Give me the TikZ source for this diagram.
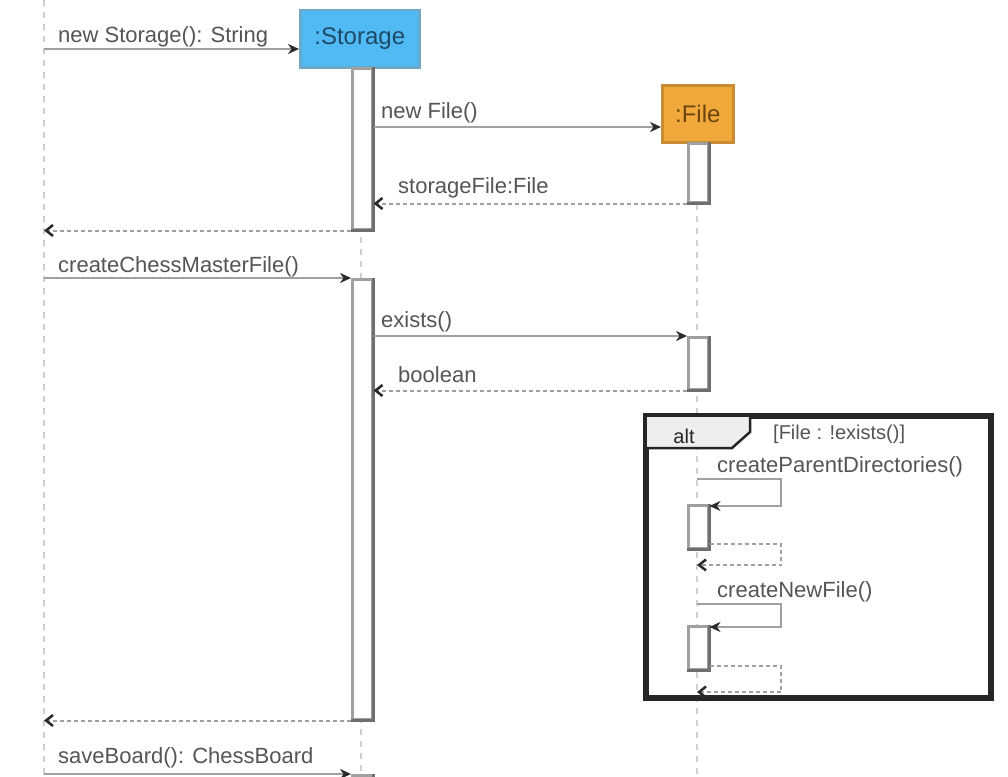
\documentclass[tikz,border=0pt]{standalone}
\usepackage{fontspec}
\setmainfont{Liberation Sans}
\usetikzlibrary{arrows.meta,calc}
\definecolor{storblue}{HTML}{50BAF5}
\definecolor{storborder}{HTML}{6EAAC8}
\definecolor{storetext}{HTML}{1E4A66}
\definecolor{fileorange}{HTML}{F0A83A}
\definecolor{fileborder}{HTML}{C88C32}
\definecolor{filetext}{HTML}{6B4510}
\definecolor{msggray}{HTML}{A0A0A0}
\definecolor{actgray}{HTML}{A0A0A0}
\definecolor{actdark}{HTML}{6E6E6E}
\definecolor{lifegray}{HTML}{CFCFCF}
\definecolor{tipcol}{HTML}{2A2A2A}
\definecolor{txtcol}{HTML}{555555}
\definecolor{framecol}{HTML}{262626}
\definecolor{tabgray}{HTML}{EEEEEE}
\begin{document}
\begin{tikzpicture}[x=1pt,y=-1pt,
  lifeline/.style={draw=lifegray, line width=2.5pt, dash pattern=on 6pt off 6pt},
  msg/.style={draw=msggray, line width=2.5pt, -{Stealth[length=11pt,width=10pt,color=tipcol]}},
  ret/.style={draw=msggray, line width=2pt, dash pattern=on 4pt off 3pt, -{Straight Barb[length=7pt,width=11pt,color=tipcol,line width=2.5pt]}},
  lbl/.style={anchor=base west, inner sep=0pt, text=txtcol, font=\fontsize{22}{26}\selectfont},
  act/.style={draw=actgray, fill=white, line width=2.5pt, minimum width=20pt, inner sep=0pt, anchor=north west},
  actedge/.style={draw=actdark, line width=2.5pt},
  part/.style={line width=2.5pt, inner sep=0pt, anchor=north west, font=\fontsize{24}{28}\selectfont}
]
\clip (0,0) rectangle (1008,776);
\fill[white] (0,0) rectangle (1008,776);

% participants
\node[part, fill=storblue, draw=storborder, minimum width=119pt, minimum height=57pt, text=storetext] (storage) at (299,9) {:Storage};
\node[part, fill=fileorange, draw=fileborder, minimum width=71pt, minimum height=57pt, text=filetext] (file) at (661,84) {:File};

% lifelines
\coordinate (ltop) at (44,0);
\coordinate (lbot) at (44,776);
\coordinate (sbot) at (361,776);
\coordinate (fbot) at (697,776);
\draw[lifeline] (ltop) -- (lbot);
\draw[lifeline] (storage.south -| sbot) -- (sbot);
\draw[lifeline] (file.south -| fbot) -- (fbot);

% activations
\node[act, minimum height=161pt] (s1) at (351,67) {};
\draw[actedge] (s1.north east) -- (s1.south east) -- (s1.south west);
\node[act, minimum height=59pt] (f1) at (687,142) {};
\draw[actedge] (f1.north east) -- (f1.south east) -- (f1.south west);
\node[act, minimum height=440pt] (s2) at (351,278) {};
\draw[actedge] (s2.north east) -- (s2.south east) -- (s2.south west);
\node[act, minimum height=52pt] (f2) at (687,336) {};
\draw[actedge] (f2.north east) -- (f2.south east) -- (f2.south west);
\node[act, minimum height=40pt] (s3) at (351,774) {};
\draw[actedge] (s3.north east) -- (s3.south east);

% alt frame
\node[draw=framecol, line width=4pt, minimum width=343pt, minimum height=280pt, inner sep=0pt, anchor=north west] (alt) at (645,415) {};
\coordinate (tabA) at (750,415);
\coordinate (tabB) at (750,432);
\coordinate (tabC) at (732,448);
\coordinate (tabD) at (645,448);
\fill[tabgray] (alt.north west) -- (tabA) -- (tabB) -- (tabC) -- (tabD) -- cycle;
\draw[framecol, line width=2.5pt] (tabA) -- (tabB) -- (tabC) -- (tabD);
\draw[framecol, line width=4pt] (alt.north west) rectangle (alt.south east);
\node[inner sep=0pt, text=framecol, font=\fontsize{20}{24}\selectfont] (altlbl) at (684,436) {alt};
\node[inner sep=0pt, anchor=west, text=txtcol, font=\fontsize{20}{24}\selectfont] (guard) at (773,434) {[File : !exists()]};

% self-call activations inside frame
\node[act, minimum height=43pt] (a1) at (687,504) {};
\draw[actedge] (a1.north east) -- (a1.south east) -- (a1.south west);
\node[act, minimum height=43pt] (a2) at (687,625) {};
\draw[actedge] (a2.north east) -- (a2.south east) -- (a2.south west);

% messages
\coordinate (m1) at (44,49);
\draw[msg] (m1) -- (m1 -| storage.west);
\node[lbl] (l1) at (58,42) {new Storage(): String};

\coordinate (m2) at (0,127);
\draw[msg] (s1.east |- m2) -- (file.west |- m2);
\node[lbl] (l2) at (381,118) {new File()};

\draw[ret] (f1.south west) -- (s1.east |- f1.south);
\node[lbl] (l3) at (398,193) {storageFile:File};

\draw[ret] (s1.south west) -- (ltop |- s1.south);

\draw[msg] (ltop |- s2.north) -- (s2.north west);
\node[lbl] (l4) at (58,272) {createChessMasterFile()};

\draw[msg] (s2.east |- f2.north) -- (f2.north west);
\node[lbl] (l5) at (381,327) {exists()};

\draw[ret] (f2.south west) -- (s2.east |- f2.south);
\node[lbl] (l6) at (398,382) {boolean};

% self call 1
\coordinate (sc1a) at (697,479);
\coordinate (sc1b) at (781,479);
\coordinate (sc1c) at (781,506);
\draw[msg] (sc1a) -- (sc1b) -- (sc1c) -- (a1.east |- sc1c);
\node[lbl] (l7) at (717,472) {createParentDirectories()};
\coordinate (rt1a) at (781,544);
\coordinate (rt1b) at (781,565);
\draw[ret] (a1.east |- rt1a) -- (rt1a) -- (rt1b) -- (fbot |- rt1b);

% self call 2
\coordinate (sc2a) at (697,604);
\coordinate (sc2b) at (781,604);
\coordinate (sc2c) at (781,627);
\draw[msg] (sc2a) -- (sc2b) -- (sc2c) -- (a2.east |- sc2c);
\node[lbl] (l8) at (717,597) {createNewFile()};
\coordinate (rt2a) at (781,666);
\coordinate (rt2b) at (781,692);
\draw[ret] (a2.east |- rt2a) -- (rt2a) -- (rt2b) -- (fbot |- rt2b);

\draw[ret] (s2.south west) -- (ltop |- s2.south);

\draw[msg] (ltop |- s3.north) -- (s3.north west);
\node[lbl] (l9) at (58,763) {saveBoard(): ChessBoard};
\end{tikzpicture}
\end{document}
